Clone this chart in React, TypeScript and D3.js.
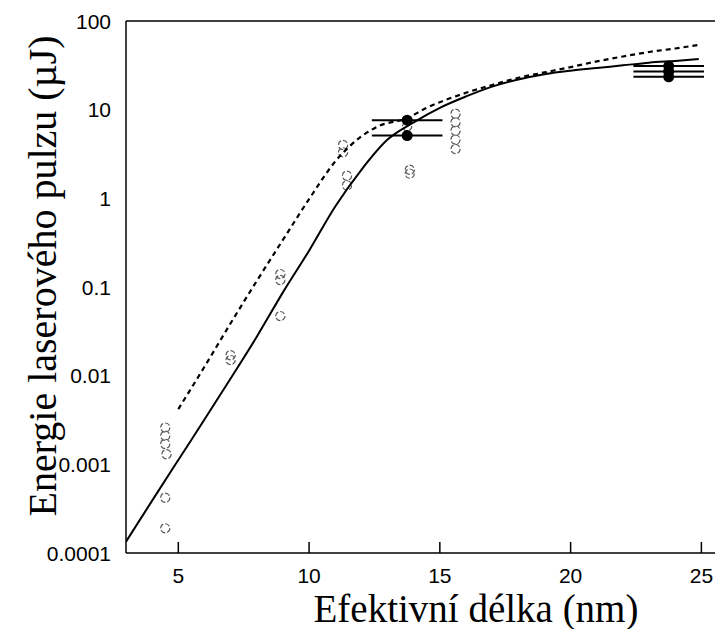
import React from "react";
import * as d3 from "d3";

// ---- data ----
const solidX = [3, 4, 5, 6, 7, 8, 9, 10, 11, 12, 13, 14, 15, 16, 17, 18, 19, 20, 21, 22, 23, 24, 24.9];
const solidY = [0.000134, 0.00039, 0.00112, 0.0032, 0.0093, 0.0275, 0.087, 0.257, 0.81, 2.1, 4.6, 7.2, 10.5, 14.1, 18.2, 21.9, 25.1, 27.5, 29.5, 31.6, 33.9, 35.5, 37.2];

const dashX = [5, 6, 7, 8, 9, 10, 11, 12, 12.7, 13.7, 14.5, 16, 17, 18, 19, 20, 21, 22, 23, 24, 24.85];
const dashY = [0.0042, 0.0126, 0.039, 0.117, 0.34, 0.98, 2.6, 5.0, 6.6, 7.9, 10.5, 15.5, 19, 22.9, 26.3, 30.2, 35, 39.8, 44.7, 49, 53.5];

const openX = [4.5, 4.5, 4.5, 4.55, 4.5, 4.5, 7.0, 7.0, 8.9, 8.9, 8.9, 11.3, 11.3, 11.45, 11.45, 13.85, 13.85, 13.75, 15.6, 15.6, 15.6, 15.6, 15.6];
const openY = [0.0026, 0.0021, 0.0017, 0.0013, 0.00042, 0.00019, 0.017, 0.015, 0.14, 0.12, 0.047, 4.0, 3.3, 1.8, 1.4, 2.1, 1.9, 6.5, 9.0, 7.2, 5.8, 4.6, 3.6];

const filledX = [13.75, 13.75, 23.75, 23.75, 23.75];
const filledY = [7.6, 5.1, 31, 27, 23.5];
const filledXErr = [1.35, 1.35, 1.35, 1.35, 1.35];

const xTicks = [5, 10, 15, 20, 25];
const yTicks = [100, 10, 1, 0.1, 0.01, 0.001, 0.0001];
const yTickLabels = ["100", "10", "1", "0.1", "0.01", "0.001", "0.0001"];

const xTitle = "Efektivní délka (nm)";
const yTitle = "Energie laserového pulzu (µJ)";

export default function App() {
  const W = 715, H = 629;
  const left = 126, right = 704, top = 21, bottom = 553;
  const x = d3.scaleLinear().domain([3, 25.1]).range([left, right]);
  const y = d3.scaleLog().domain([0.0001, 100]).range([bottom, top]);

  const line = d3
    .line<[number, number]>()
    .x((d) => x(d[0]))
    .y((d) => y(d[1]))
    .curve(d3.curveMonotoneX);

  const solidPath = line(solidX.map((v, i) => [v, solidY[i]]));
  const dashPath = line(dashX.map((v, i) => [v, dashY[i]]));

  const sans = "'Liberation Sans', Arial, sans-serif";
  const serif = "'Liberation Serif', 'Times New Roman', serif";

  return (
    <svg width={W} height={H} style={{ position: "absolute", left: 0, top: 0, background: "#fff" }}>
      <defs>
        <clipPath id="plotclip">
          <rect x={left} y={top - 10} width={W - left} height={bottom - top + 10} />
        </clipPath>
      </defs>
      <rect x={0} y={0} width={W} height={H} fill="#fff" />
      {/* frame */}
      <line x1={left} y1={top} x2={W} y2={top} stroke="#000" strokeWidth={1.5} />
      <line x1={left} y1={bottom} x2={W} y2={bottom} stroke="#000" strokeWidth={1.5} />
      <line x1={left} y1={top} x2={left} y2={bottom} stroke="#000" strokeWidth={1.5} />

      {/* x ticks */}
      {xTicks.map((t) => (
        <g key={t}>
          <line x1={x(t)} x2={x(t)} y1={bottom} y2={bottom - 11} stroke="#000" strokeWidth={1.5} />
          <text x={x(t)} y={583} textAnchor="middle" fontFamily={sans} fontSize={21} fill="#000">
            {t}
          </text>
        </g>
      ))}
      {/* y labels */}
      {yTicks.map((t, i) => (
        <text key={t} x={111} y={y(t) + 7.5} textAnchor="end" fontFamily={sans} fontSize={21} fill="#000">
          {yTickLabels[i]}
        </text>
      ))}

      <g clipPath="url(#plotclip)">
        {/* open circles */}
        {openX.map((v, i) => (
          <circle
            key={"o" + i}
            cx={x(v)}
            cy={y(openY[i])}
            r={4.6}
            fill="none"
            stroke="#555"
            strokeWidth={1.1}
            strokeDasharray="5,2"
          />
        ))}
        {/* curves */}
        <path d={solidPath || ""} fill="none" stroke="#000" strokeWidth={2} />
        <path d={dashPath || ""} fill="none" stroke="#000" strokeWidth={2.2} strokeDasharray="5,4" />
        {/* error bars and filled points */}
        {filledX.map((v, i) => (
          <g key={"f" + i}>
            <line
              x1={x(v - filledXErr[i])}
              x2={x(v + filledXErr[i])}
              y1={y(filledY[i])}
              y2={y(filledY[i])}
              stroke="#000"
              strokeWidth={2}
            />
            <circle cx={x(v)} cy={y(filledY[i])} r={5.5} fill="#000" />
          </g>
        ))}
      </g>

      {/* titles */}
      <text x={476} y={622} textAnchor="middle" fontFamily={serif} fontSize={39} fill="#000">
        {xTitle}
      </text>
      <text
        transform={`translate(56, 276) rotate(-90)`}
        textAnchor="middle"
        fontFamily={serif}
        fontSize={40}
        fill="#000"
      >
        {yTitle}
      </text>
    </svg>
  );
}
